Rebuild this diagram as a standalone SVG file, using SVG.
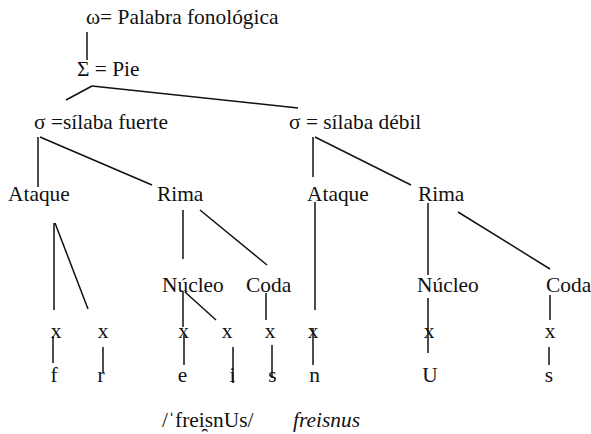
<svg xmlns="http://www.w3.org/2000/svg" width="591" height="434" viewBox="0 0 591 434">
  <style>
    .t { font-family: "Liberation Serif", "Times New Roman", serif; font-size: 21.4px; fill: #111; }
    .it { font-style: italic; }
    .e { stroke: #111; stroke-width: 1.5; fill: none; stroke-linecap: butt; }
  </style>
  <rect width="591" height="434" fill="#fff"/>

  <!-- tree edges -->
  <g id="connectors" class="e">
    <line x1="87" y1="32" x2="87" y2="60"/>
    <line x1="92" y1="86" x2="66" y2="100"/>
    <line x1="92" y1="86" x2="298" y2="108"/>
    <!-- strong syllable -->
    <line x1="38" y1="137" x2="38" y2="187"/>
    <line x1="40" y1="137" x2="152" y2="185"/>
    <line x1="54" y1="223" x2="54" y2="310"/>
    <line x1="55" y1="223" x2="88" y2="309"/>
    <line x1="183" y1="210" x2="183" y2="259"/>
    <line x1="200" y1="210" x2="267" y2="265"/>
    <line x1="183" y1="292" x2="183" y2="327"/>
    <line x1="185" y1="292" x2="216" y2="320"/>
    <line x1="266" y1="293" x2="266" y2="320"/>
    <line x1="53" y1="336" x2="53" y2="363"/>
    <line x1="103" y1="347" x2="103" y2="373"/>
    <line x1="184" y1="335" x2="184" y2="365"/>
    <line x1="233" y1="347" x2="233" y2="383"/>
    <line x1="272" y1="345" x2="272" y2="378"/>
    <!-- weak syllable -->
    <line x1="313" y1="137" x2="313" y2="177"/>
    <line x1="315" y1="137" x2="411" y2="185"/>
    <line x1="315" y1="202" x2="315" y2="310"/>
    <line x1="313" y1="328" x2="313" y2="365"/>
    <line x1="428" y1="203" x2="428" y2="275"/>
    <line x1="458" y1="212" x2="550" y2="269"/>
    <line x1="428" y1="298" x2="428" y2="353"/>
    <line x1="550" y1="295" x2="550" y2="320"/>
    <line x1="549" y1="347" x2="549" y2="365"/>
  </g>

  <g id="palabra"><text class="t" x="86" y="24">ω= Palabra fonológica</text></g>
  <g id="pie"><text class="t" x="77" y="76">Σ = Pie</text></g>
  <g id="silaba-fuerte"><text class="t" x="34" y="129">σ =sílaba fuerte</text></g>
  <g id="silaba-debil"><text class="t" x="289" y="129">σ = sílaba débil</text></g>

  <g id="ataque-1"><text class="t" x="8" y="201">Ataque</text></g>
  <g id="rima-1"><text class="t" x="157" y="201">Rima</text></g>
  <g id="ataque-2"><text class="t" x="307" y="201">Ataque</text></g>
  <g id="rima-2"><text class="t" x="418" y="201">Rima</text></g>

  <g id="nucleo-1"><text class="t" x="162" y="292">Núcleo</text></g>
  <g id="coda-1"><text class="t" x="246" y="292">Coda</text></g>
  <g id="nucleo-2"><text class="t" x="417" y="292">Núcleo</text></g>
  <g id="coda-2"><text class="t" x="546" y="292">Coda</text></g>

  <!-- skeletal tier -->
  <g id="x-row" class="t" text-anchor="middle">
    <text x="56" y="338">x</text>
    <text x="103" y="338">x</text>
    <text x="183.5" y="338">x</text>
    <text x="227" y="338">x</text>
    <text x="270" y="338">x</text>
    <text x="313" y="338">x</text>
    <text x="429" y="338">x</text>
    <text x="550" y="338">x</text>
  </g>

  <!-- segmental tier -->
  <g id="segments" class="t" text-anchor="middle">
    <text x="54" y="382">f</text>
    <text x="101" y="382">r</text>
    <text x="182.5" y="382">e</text>
    <text x="232.5" y="382">i</text>
    <text x="272.5" y="382">s</text>
    <text x="314.5" y="382">n</text>
    <text x="430" y="382">U</text>
    <text x="549" y="382">s</text>
  </g>

  <g id="transcripcion"><text class="t" x="162" y="427">/ˈfrei̯snUs/</text></g>
  <g id="ortografia"><text class="t it" x="293" y="427">freisnus</text></g>
</svg>
